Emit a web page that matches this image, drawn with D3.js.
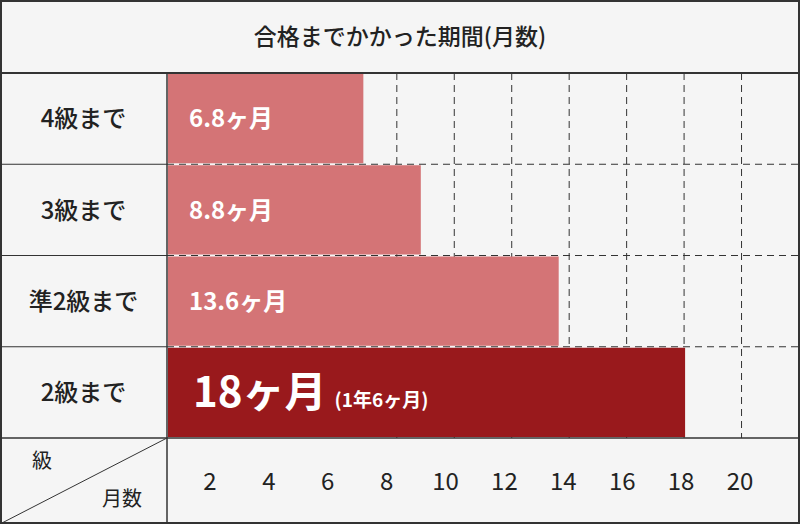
<!DOCTYPE html><html><head><meta charset="utf-8"><script src="https://d3js.org/d3.v7.min.js"></script>
<style>body{margin:0;background:#f5f5f5}text{font-family:"Noto Sans CJK JP",sans-serif}</style></head><body>
<script>
const categories=["4級まで","3級まで","準2級まで","2級まで"];
const values=[6.8,8.8,13.6,18];
const barLabels=["6.8ヶ月","8.8ヶ月","13.6ヶ月","18ヶ月"];
const highlight=[false,false,false,true];
const tickValues=[2,4,6,8,10,12,14,16,18,20];
const gridValues=[8,10,12,14,16,18,20];
const title="合格までかかった期間(月数)";
const W=800,H=524,L=167,T=73,B=438;
const svg=d3.select("body").append("svg").attr("width",W).attr("height",H);
svg.append("rect").attr("x",1).attr("y",1).attr("width",W-2).attr("height",H-2).attr("fill","#f5f5f5").attr("stroke","#333").attr("stroke-width",2);
const x=d3.scaleLinear().domain([0,22]).range([L,W-1]);
const xt=d3.scaleLinear().domain([2,20]).range([210,740]);
const y=d3.scaleBand().domain(categories).range([T,B]);
svg.selectAll(".g").data(gridValues).join("line").attr("x1",d=>x(d)).attr("x2",d=>x(d)).attr("y1",T).attr("y2",B).attr("stroke","#333").attr("stroke-dasharray","7,5");
categories.slice(1).forEach(c=>{
 svg.append("line").attr("x1",L).attr("x2",W).attr("y1",y(c)).attr("y2",y(c)).attr("stroke","#333").attr("stroke-dasharray","7,5");
 svg.append("line").attr("x1",0).attr("x2",L).attr("y1",y(c)).attr("y2",y(c)).attr("stroke","#333");
});
svg.selectAll(".bar").data(values).join("rect").attr("x",L+1).attr("y",(d,i)=>y(categories[i])+1).attr("width",d=>x(d)-L).attr("height",y.bandwidth()-2).attr("fill",(d,i)=>highlight[i]?"#99191c":"#d47476");
svg.selectAll(".bl").data(values).join("text").attr("x",(d,i)=>highlight[i]?L+26:L+22).attr("y",(d,i)=>y(categories[i])+y.bandwidth()/2).attr("dy","0.36em").attr("fill","#fff").attr("font-weight","bold").attr("font-size",(d,i)=>highlight[i]?42:24)
 .each(function(d,i){const t=d3.select(this);t.text(barLabels[i]);if(highlight[i])t.append("tspan").attr("font-size",19).attr("dx",8).text("(1年6ヶ月)");});
svg.selectAll(".cl").data(categories).join("text").attr("x",L/2).attr("y",d=>y(d)+y.bandwidth()/2).attr("dy","0.36em").attr("text-anchor","middle").attr("font-size",24).attr("font-weight","500").attr("fill","#222").text(d=>d);
svg.append("text").attr("x",W/2).attr("y",T/2).attr("dy","0.36em").attr("text-anchor","middle").attr("font-size",23).attr("font-weight","500").attr("fill","#222").text(title);
svg.append("line").attr("x1",0).attr("x2",W).attr("y1",T).attr("y2",T).attr("stroke","#333").attr("stroke-width",2);
svg.append("line").attr("x1",0).attr("x2",W).attr("y1",B).attr("y2",B).attr("stroke","#333").attr("stroke-width",1.5);
svg.append("line").attr("x1",L).attr("x2",L).attr("y1",T).attr("y2",H).attr("stroke","#333").attr("stroke-width",1.5);
svg.append("line").attr("x1",0).attr("x2",L).attr("y1",H).attr("y2",B).attr("stroke","#333");
svg.append("text").attr("x",42).attr("y",468).attr("text-anchor","middle").attr("font-size",20).attr("fill","#222").text("級");
svg.append("text").attr("x",122).attr("y",506).attr("text-anchor","middle").attr("font-size",20).attr("fill","#222").text("月数");
svg.selectAll(".tk").data(tickValues).join("text").attr("x",d=>xt(d)).attr("y",(B+H)/2).attr("dy","0.36em").attr("text-anchor","middle").attr("font-size",24).attr("fill","#222").text(d=>d);
</script></body></html>
